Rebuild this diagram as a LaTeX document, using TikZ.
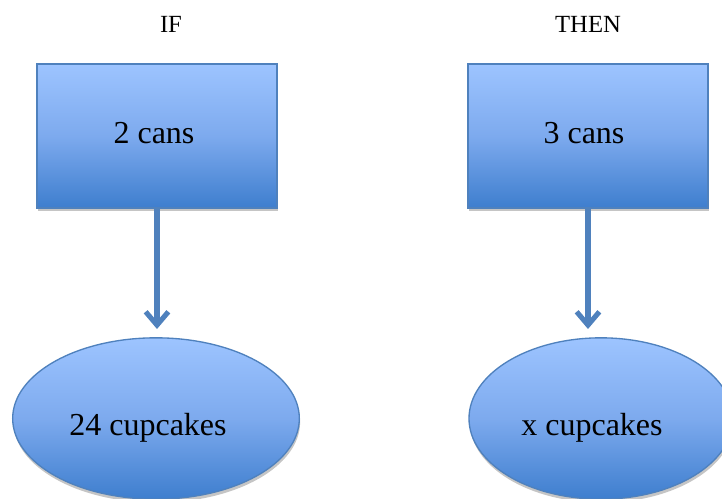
\documentclass[tikz,border=0pt]{standalone}
\usepackage{fontspec}
\setmainfont{Liberation Serif}
\usetikzlibrary{shapes.geometric,shadows,arrows.meta}
\definecolor{gtop}{RGB}{157,196,255}
\definecolor{gmid}{RGB}{125,170,238}
\definecolor{gbot}{RGB}{62,126,206}
\definecolor{edge}{RGB}{79,129,189}
\definecolor{arrowc}{RGB}{79,129,189}
\tikzset{
  shadeblue/.style={top color=gtop, bottom color=gbot, middle color=gmid, draw=edge, line width=1pt,
    drop shadow={shadow xshift=0.6pt, shadow yshift=-2.6pt, fill=black!45, opacity=0.5}},
  boxnode/.style={shadeblue, rectangle, minimum width=180pt, minimum height=108pt, inner sep=0pt},
  ellnode/.style={shadeblue, ellipse, minimum height=121pt, inner sep=0pt},
  lbl/.style={font=\fontsize{24}{28}\selectfont, inner sep=0pt},
  hdr/.style={font=\fontsize{18.5}{22}\selectfont, inner sep=0pt},
  flow/.style={draw=arrowc, line width=3.8pt, -{Straight Barb[length=10pt,width=17pt,line width=3.8pt]}},
}
\begin{document}
\begin{tikzpicture}[x=0.75pt,y=-0.75pt]
\useasboundingbox (0,0) rectangle (722,499);
\clip (0,0) rectangle (722,499);
\fill[white] (0,0) rectangle (722,499);
% headers
\node[hdr] (if) at (171,24) {IF};
\node[hdr] (then) at (588,24) {THEN};
% boxes
\node[boxnode] (b1) at (157,136) {};
\node[boxnode] (b2) at (588,136) {};
\node[lbl] (t1) at (154,133) {2 cans};
\node[lbl] (t2) at (584,133) {3 cans};
% ellipses
\node[ellnode, minimum width=215pt] (e1) at (156,418.5) {};
\node[ellnode, minimum width=198pt] (e2) at (601,418.5) {};
\node[lbl] (u1) at (148,428) {24 cupcakes};
\node[lbl] (u2) at (592,428) {x cupcakes};
% arrows
\coordinate (a1) at (157,329);
\coordinate (a2) at (588,329);
\draw[flow] (b1.south) -- (a1);
\draw[flow] (b2.south) -- (a2);
\end{tikzpicture}
\end{document}
